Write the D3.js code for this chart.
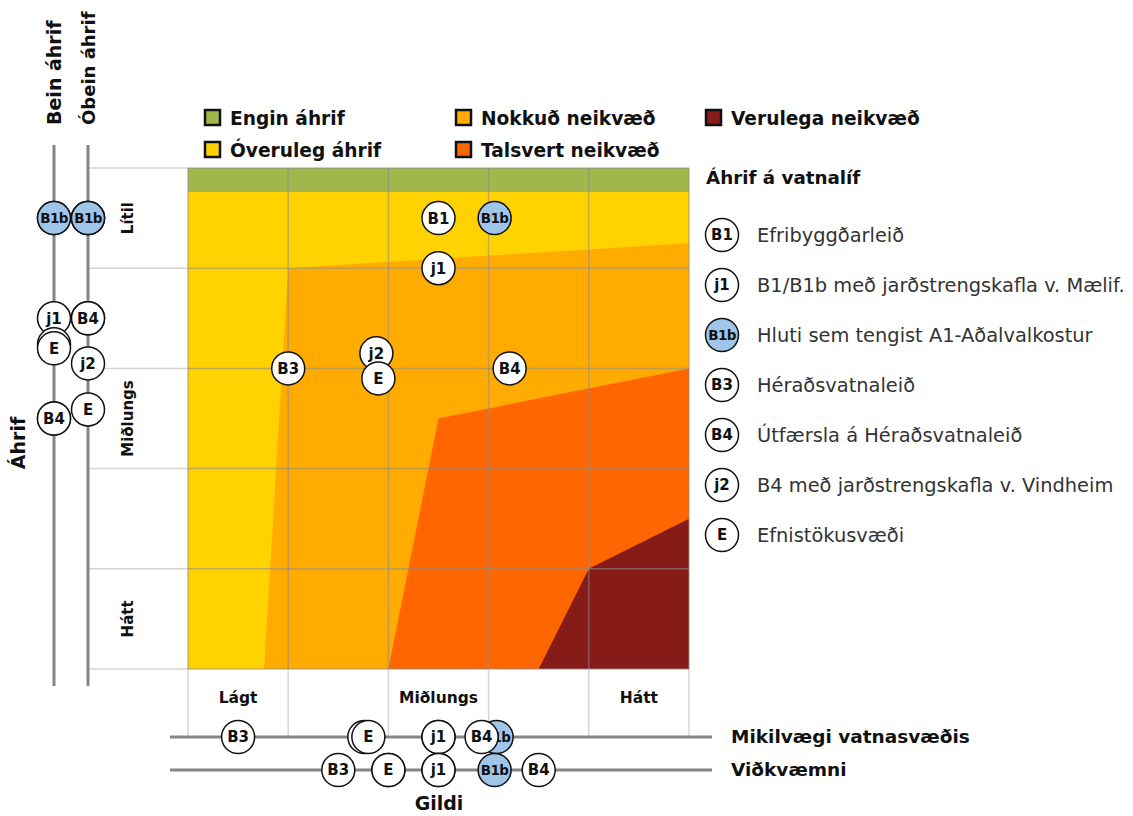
<!DOCTYPE html>
<html><head><meta charset="utf-8">
<script src="https://cdn.jsdelivr.net/npm/d3@7"></script>
<style>body{margin:0;background:#fff;} svg{display:block;font-family:"DejaVu Sans",sans-serif;}</style>
</head><body>
<svg id="c" width="1133" height="816"></svg>
<script>
// ---- data ----
const zoneNames = ["Engin áhrif","Óveruleg áhrif","Nokkuð neikvæð","Talsvert neikvæð","Verulega neikvæð"];
const zoneColors = ["#a1b64b","#ffd200","#ffab00","#ff6600","#861b18"];
// zone polygons in grid units (x: Gildi 0..5, y: Áhrif 0..5, 0 = top)
const zoneGreen = [[0,0],[5,0],[5,0.24],[0,0.24]];
const zoneYellow = [[0,0.24],[5,0.24],[5,5],[0,5]];
const zoneOrange = [[1.0,1.0],[5,0.75],[5,5],[0.76,5]];
const zoneTalsvert = [[2.5,2.5],[5,2.0],[5,5],[2.0,5]];
const zoneVerulega = [[3.5,5],[4.0,4.0],[5,3.5],[5,5]];

const xCatLabels = ["Lágt","Miðlungs","Hátt"];
const xCatPos = [0.5,2.5,4.5];
const yCatLabels = ["Lítil","Miðlungs","Hátt"];
const yCatPos = [0.5,2.5,4.5];
const gridTicks = [0,1,2,3,4,5];

const options = ["B1","j1","B1b","B3","B4","j2","E"];
const optionNames = ["Efribyggðarleið","B1/B1b með jarðstrengskafla v. Mælif.","Hluti sem tengist A1-Aðalvalkostur","Héraðsvatnaleið","Útfærsla á Héraðsvatnaleið","B4 með jarðstrengskafla v. Vindheim","Efnistökusvæði"];
const highlighted = ["B1b"];

// combined chart position (draw order)
const chartOrder = ["B1","B1b","j1","B3","B4","j2","E"];
const chartX = [2.5,3.06,2.5,1.0,3.21,1.88,1.9];
const chartY = [0.5,0.5,1.0,2.0,2.0,1.85,2.1];

// axis positions
const beinOrder = ["B1","B1b","j1","j2","E","B3","B4"];
const beinVal   = [0.5,0.5,1.5,1.76,1.8,2.5,2.5];
const obeinOrder = ["B1","j1","B1b","B3","B4","j2","E"];
const obeinVal   = [0.5,0.5,0.5,1.5,1.5,1.95,2.41];
const mikilOrder = ["B3","j2","E","B1","j1","B1b","B4"];
const mikilVal   = [0.5,1.76,1.8,2.5,2.5,3.08,2.93];
const vidkOrder  = ["B3","j2","E","B1","j1","B1b","B4"];
const vidkVal    = [1.5,2.0,2.0,2.5,2.5,3.06,3.5];

// ---- drawing ----
const svg = d3.select("#c");
const x = d3.scaleLinear().domain([0,5]).range([188,689]);
const y = d3.scaleLinear().domain([0,5]).range([168,669]);
const lineGen = d3.line().x(d=>x(d[0])).y(d=>y(d[1]));
const poly = pts => lineGen(pts) + "Z";

// zones
const zones = [zoneYellow, zoneGreen, zoneOrange, zoneTalsvert, zoneVerulega];
const zoneCol = [zoneColors[1], zoneColors[0], zoneColors[2], zoneColors[3], zoneColors[4]];
svg.append("g").selectAll("path").data(zones).join("path")
  .attr("d", poly).attr("fill",(d,i)=>zoneCol[i]);

// extension grid lines (outside plot)
const gExt = svg.append("g").attr("stroke","#d4d4d4").attr("stroke-width",1.5);
gExt.selectAll("line.h").data(gridTicks).join("line").attr("class","h")
  .attr("x1",88).attr("x2",x(0)).attr("y1",d=>y(d)).attr("y2",d=>y(d));
gExt.selectAll("line.v").data(gridTicks).join("line").attr("class","v")
  .attr("y1",y(5)).attr("y2",737).attr("x1",d=>x(d)).attr("x2",d=>x(d));

// inner grid
const gGrid = svg.append("g").attr("stroke","rgba(140,140,140,0.55)").attr("stroke-width",1.5);
gGrid.selectAll("line.h").data(gridTicks).join("line").attr("class","h")
  .attr("x1",x(0)).attr("x2",x(5)).attr("y1",d=>y(d)).attr("y2",d=>y(d));
gGrid.selectAll("line.v").data(gridTicks).join("line").attr("class","v")
  .attr("y1",y(0)).attr("y2",y(5)).attr("x1",d=>x(d)).attr("x2",d=>x(d));

// axis lines
const axisCol = "#858585";
[54,88].forEach(xx=>svg.append("line").attr("x1",xx).attr("x2",xx).attr("y1",145).attr("y2",686)
  .attr("stroke",axisCol).attr("stroke-width",3));
[737,770].forEach(yy=>svg.append("line").attr("x1",170).attr("x2",712).attr("y1",yy).attr("y2",yy)
  .attr("stroke",axisCol).attr("stroke-width",3));

// category labels
svg.append("g").selectAll("text").data(xCatLabels).join("text")
  .attr("x",(d,i)=>x(xCatPos[i])).attr("y",703).attr("text-anchor","middle")
  .attr("font-size",15.5).attr("font-weight","bold").attr("fill","#111").text(d=>d);
svg.append("g").selectAll("text").data(yCatLabels).join("text")
  .attr("transform",(d,i)=>`translate(133,${y(yCatPos[i])}) rotate(-90)`).attr("text-anchor","middle")
  .attr("font-size",15).attr("font-weight","bold").attr("fill","#111").text(d=>d);

// axis titles
function title(txt, tx, ty, rot, anchor, size){
  svg.append("text").attr("transform",`translate(${tx},${ty}) rotate(${rot})`)
    .attr("text-anchor",anchor).attr("font-size",size).attr("font-weight","bold").attr("fill","#111").text(txt);
}
title("Bein áhrif",61,125,-90,"start",19);
title("Óbein áhrif",95,125,-90,"start",18);
title("Áhrif",25,443,-90,"middle",19);
title("Mikilvægi vatnasvæðis",731,743,0,"start",18.5);
title("Viðkvæmni",731,776,0,"start",18.5);
title("Gildi",439,810,0,"middle",19);
title("Áhrif á vatnalíf",706,184,0,"start",18.3);

// markers
const R = 16.5;
function marker(g, label, cx, cy, showText){
  const m = g.append("g").attr("transform",`translate(${cx},${cy})`);
  m.append("circle").attr("r",R).attr("fill",highlighted.includes(label)?"#9fc5e8":"#fff")
    .attr("stroke","#111").attr("stroke-width",1.5);
  if (showText !== false)
    m.append("text").attr("text-anchor","middle").attr("dy","0.36em").attr("font-size",label.length>2?13.5:15)
      .attr("font-weight","bold").attr("fill","#111").attr("letter-spacing",label.length>2?-0.6:0).text(label);
}
// draw a set of markers in order; text of a marker that is fully covered by a later one is left out
function markerSet(order, px, py){
  const pts = order.map((k,i)=>[k,px(i),py(i)]);
  pts.forEach((p,i)=>{
    const covered = pts.slice(i+1).some(q=>Math.hypot(q[1]-p[1],q[2]-p[2])<8);
    marker(gm,p[0],p[1],p[2],!covered);
  });
}
const gm = svg.append("g");
markerSet(chartOrder, i=>x(chartX[i]), i=>y(chartY[i]));
markerSet(beinOrder, i=>54, i=>y(beinVal[i]));
markerSet(obeinOrder, i=>88, i=>y(obeinVal[i]));
markerSet(mikilOrder, i=>x(mikilVal[i]), i=>737);
markerSet(vidkOrder, i=>x(vidkVal[i]), i=>770);

// right legend
options.forEach((k,i)=>{
  const yy = 235 + i*50;
  marker(gm,k,722,yy);
  svg.append("text").attr("x",757).attr("y",yy).attr("dy","0.36em").attr("font-size",19.4)
    .attr("fill","#333").text(optionNames[i]);
});

// top legend
const legPos = [[205,118],[205,150],[456,118],[456,150],[706,118]];
zoneNames.forEach((n,i)=>{
  const [lx,ly] = legPos[i];
  svg.append("rect").attr("x",lx).attr("y",ly-8).attr("width",15).attr("height",15)
    .attr("fill",zoneColors[i]).attr("stroke","#111").attr("stroke-width",2.5);
  svg.append("text").attr("x",lx+25).attr("y",ly).attr("dy","0.36em").attr("font-size",18.6)
    .attr("font-weight","bold").attr("fill","#111").text(n);
});
</script>
</body></html>
